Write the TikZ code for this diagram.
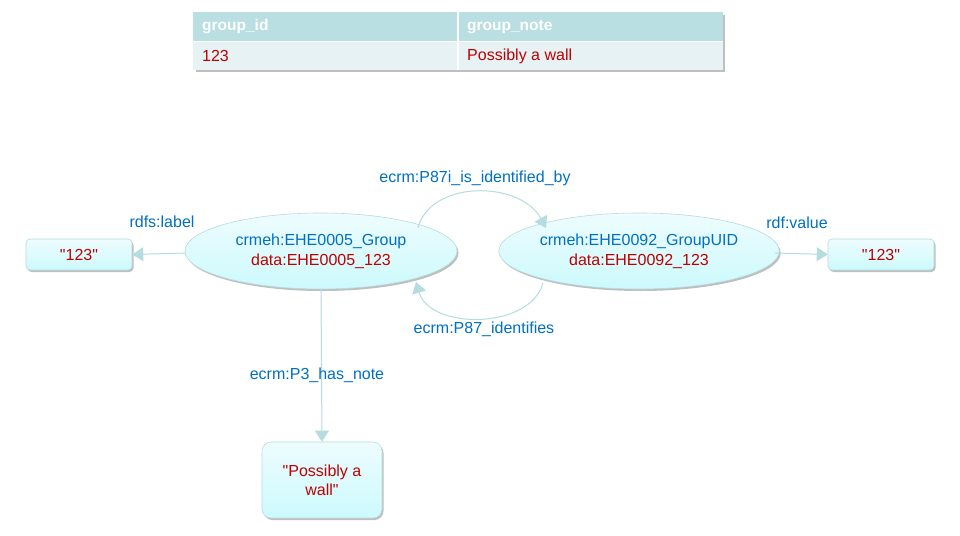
\documentclass[tikz,border=0pt]{standalone}
\usepackage{fontspec}
\setmainfont{Liberation Sans}
\usetikzlibrary{shapes.geometric,shadows,arrows.meta}
\definecolor{lnk}{HTML}{B5DCDF}
\definecolor{bluetxt}{HTML}{0070C0}
\definecolor{redtxt}{HTML}{C00000}
\definecolor{hdr}{HTML}{B9DFE3}
\definecolor{rowc}{HTML}{E6F2F4}
\definecolor{topfill}{HTML}{EEFCFE}
\definecolor{botfill}{HTML}{CCFAFD}
\newcommand{\qq}{\textquotedbl}
\tikzset{
  shad/.style={drop shadow={shadow xshift=1.5pt,shadow yshift=-2pt,fill=black,opacity=0.25}},
  classnode/.style={ellipse,draw=lnk,line width=0.6pt,top color=topfill,bottom color=botfill,
    minimum width=272pt,minimum height=76pt,inner sep=0pt,align=center,shad,
    font=\fontsize{16}{20}\selectfont},
  litnode/.style={rectangle,rounded corners=4pt,draw=lnk,line width=0.6pt,top color=topfill,
    bottom color=botfill,inner sep=0pt,align=center,shad,text=redtxt,
    font=\fontsize{16}{19}\selectfont},
  link/.style={draw=lnk,line width=1pt,-{Triangle[length=11pt,width=14pt]}},
  lbl/.style={text=bluetxt,font=\fontsize{16}{18}\selectfont,inner sep=0pt},
  hdrtxt/.style={text=white,font=\bfseries\fontsize{15.5}{17}\selectfont,anchor=west,inner sep=0pt},
  celltxt/.style={text=redtxt,font=\fontsize{16}{18}\selectfont,anchor=west,inner sep=0pt},
}
\begin{document}
\begin{tikzpicture}[x=1pt,y=-1pt]
\useasboundingbox[fill=white] (0,0) rectangle (960,535);
% table
\fill[black,opacity=0.25] (196,15) rectangle (725,72);
\fill[hdr] (193,12) rectangle (723,41);
\fill[rowc] (193,42) rectangle (723,70);
\draw[white,line width=1.2pt] (193,41.5) -- (723,41.5);
\draw[white,line width=1.2pt] (458,12) -- (458,70);
\node[hdrtxt] (h1) at (202,27) {group\_id};
\node[hdrtxt] (h2) at (467,27) {group\_note};
\node[celltxt] (c1) at (202,56) {123};
\node[celltxt] (c2) at (467,56) {Possibly a wall};
% graph nodes
\node[classnode] (grp) at (321,251) {\textcolor{bluetxt}{crmeh:EHE0005\_Group}\\\textcolor{redtxt}{data:EHE0005\_123}};
\node[classnode] (uid) at (639,251) {\textcolor{bluetxt}{crmeh:EHE0092\_GroupUID}\\\textcolor{redtxt}{data:EHE0092\_123}};
\node[litnode,minimum width=106pt,minimum height=31pt] (lab) at (79,254.5) {\qq123\qq};
\node[litnode,minimum width=106pt,minimum height=31pt] (val) at (881,254.5) {\qq123\qq};
\node[litnode,minimum width=120pt,minimum height=76pt,rounded corners=9pt] (note) at (322,480) {\qq Possibly a\\wall\qq};
% connectors
\coordinate (g1) at (185,253);
\coordinate (u1) at (775,253);
\draw[link] (g1) -- (lab.east);
\draw[link] (u1) -- (val.west);
\draw[link] (grp.south) -- (note.north);
\coordinate (ga) at (418,228);
\coordinate (ua) at (546,228);
\coordinate (ub) at (543,283);
\coordinate (gb) at (416,282);
\draw[link] (ga) .. controls (430,180) and (520,180) .. (ua);
\draw[link] (ub) .. controls (530,330) and (430,330) .. (gb);
% edge labels
\node[lbl] (l1) at (162,222) {rdfs:label};
\node[lbl] (l2) at (797,223) {rdf:value};
\node[lbl] (l3) at (317,375) {ecrm:P3\_has\_note};
\node[lbl] (l4) at (475,178) {ecrm:P87i\_is\_identified\_by};
\node[lbl] (l5) at (484,329) {ecrm:P87\_identifies};
\end{tikzpicture}
\end{document}
